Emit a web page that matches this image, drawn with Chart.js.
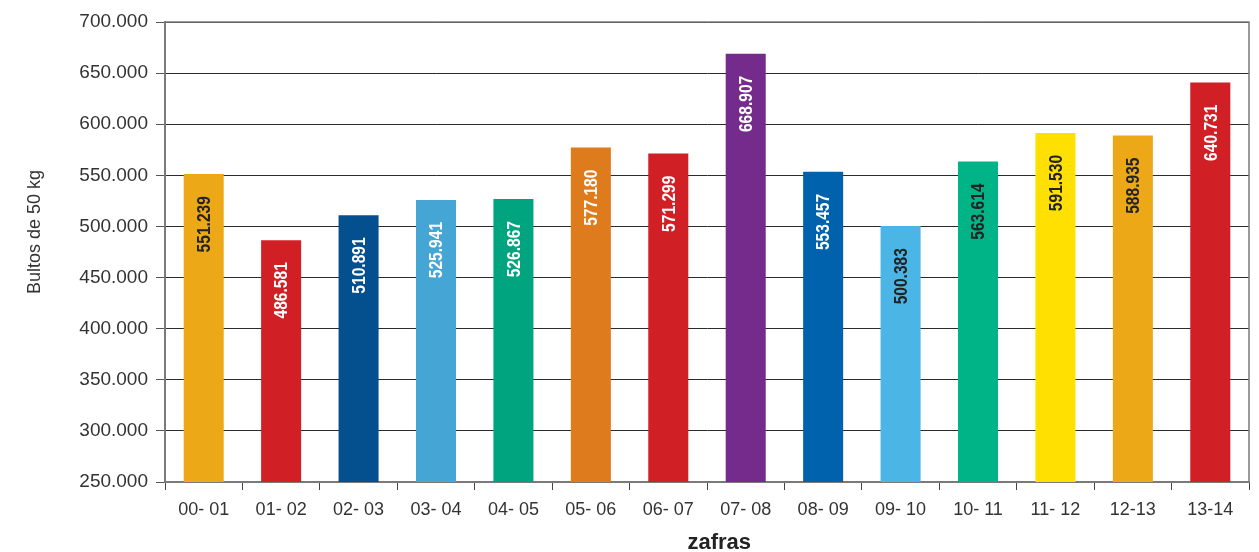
<!DOCTYPE html>
<html>
<head>
<meta charset="utf-8">
<script src="https://cdn.jsdelivr.net/npm/chart.js@4/dist/chart.umd.min.js"></script>
<style>
  html, body { margin: 0; padding: 0; background: #ffffff; }
  #wrap { width: 1259px; height: 552px; position: relative; }
</style>
</head>
<body>
<div id="wrap"><canvas id="c" width="1259" height="552"></canvas></div>
<script>
// Zafras (harvest seasons) and production in 50 kg sacks
const zafras = ['00- 01', '01- 02', '02- 03', '03- 04', '04- 05', '05- 06', '06- 07',
                '07- 08', '08- 09', '09- 10', '10- 11', '11- 12', '12-13', '13-14'];
const bultos = [551239, 486581, 510891, 525941, 526867, 577180, 571299,
                668907, 553457, 500383, 563614, 591530, 588935, 640731];
const barColors = ['#EDA818', '#D11F26', '#04508F', '#45A5D4', '#00A57F', '#DE7B1D', '#D11F26',
                   '#742B8C', '#0062AD', '#4BB5E6', '#00B488', '#FFE000', '#EDA818', '#D11F26'];
const labelColors = ['#222222', '#ffffff', '#ffffff', '#ffffff', '#ffffff', '#ffffff', '#ffffff',
                     '#ffffff', '#ffffff', '#222222', '#222222', '#222222', '#222222', '#ffffff'];
const yMin = 250000, yMax = 700000, yStep = 50000;

function miles(v) {
  // 551239 -> "551.239"
  const s = String(Math.round(v));
  return s.replace(/\B(?=(\d{3})+(?!\d))/g, '.');
}

// Value labels written vertically inside each bar, in a condensed bold face
const barValueLabels = {
  id: 'barValueLabels',
  afterDatasetsDraw(chart) {
    const ctx = chart.ctx;
    const meta = chart.getDatasetMeta(0);
    ctx.save();
    ctx.font = 'bold 19px "Liberation Sans", Arial, sans-serif';
    ctx.textAlign = 'right';
    ctx.textBaseline = 'middle';
    meta.data.forEach((bar, i) => {
      ctx.save();
      ctx.translate(bar.x + 1, bar.y + 22);
      ctx.rotate(-Math.PI / 2);
      ctx.scale(0.82, 1);
      ctx.fillStyle = labelColors[i];
      ctx.fillText(miles(bultos[i]), 0, 0);
      ctx.restore();
    });
    ctx.restore();
  }
};

// Frame around the plotting area
const plotFrame = {
  id: 'plotFrame',
  afterDraw(chart) {
    const {ctx, chartArea: a} = chart;
    ctx.save();
    ctx.strokeStyle = '#7a7a7a';
    ctx.lineWidth = 1.5;
    ctx.beginPath();
    ctx.moveTo(a.left, a.top);
    ctx.lineTo(a.right, a.top);
    ctx.lineTo(a.right, a.bottom);
    ctx.stroke();
    ctx.restore();
  }
};

new Chart(document.getElementById('c'), {
  type: 'bar',
  data: {
    labels: zafras,
    datasets: [{
      data: bultos,
      backgroundColor: barColors,
      borderWidth: 0,
      barPercentage: 0.517,
      categoryPercentage: 1.0
    }]
  },
  options: {
    responsive: false,
    animation: false,
    devicePixelRatio: 1,
    layout: { padding: { left: 0, right: 10, top: 22, bottom: 0 } },
    plugins: {
      legend: { display: false },
      tooltip: { enabled: false }
    },
    scales: {
      y: {
        min: yMin,
        max: yMax,
        afterFit(scale) { scale.width = 165; },
        ticks: {
          stepSize: yStep,
          padding: 8,
          color: '#333333',
          font: { family: '"Liberation Sans", Arial, sans-serif', size: 19 },
          callback: (v) => miles(v)
        },
        grid: {
          color: '#2b2b2b',
          lineWidth: 1,
          drawTicks: true,
          tickLength: 9,
          tickColor: '#555555'
        },
        border: { display: true, color: '#7a7a7a', width: 2 },
        title: {
          display: true,
          text: '\u00a0\u00a0\u00a0\u00a0\u00a0\u00a0\u00a0\u00a0Bultos de 50 kg',
          color: '#333333',
          font: { family: '"Liberation Sans", Arial, sans-serif', size: 18 },
          padding: { top: 24, bottom: 0 }
        }
      },
      x: {
        afterFit(scale) { scale.height = 70; },
        ticks: {
          padding: 9,
          color: '#333333',
          font: { family: '"Liberation Sans", Arial, sans-serif', size: 18 },
          maxRotation: 0,
          autoSkip: false
        },
        grid: {
          offset: true,
          drawOnChartArea: false,
          drawTicks: true,
          tickLength: 8,
          tickColor: '#444444',
          lineWidth: 1
        },
        border: { display: true, color: '#7a7a7a', width: 2 },
        title: {
          display: true,
          text: '\u00a0\u00a0\u00a0\u00a0zafras',
          color: '#222222',
          font: { family: '"Liberation Sans", Arial, sans-serif', size: 22, weight: 'bold', lineHeight: 0.8 },
          padding: { top: 0, bottom: 0 }
        }
      }
    }
  },
  plugins: [barValueLabels, plotFrame]
});
</script>
</body>
</html>
